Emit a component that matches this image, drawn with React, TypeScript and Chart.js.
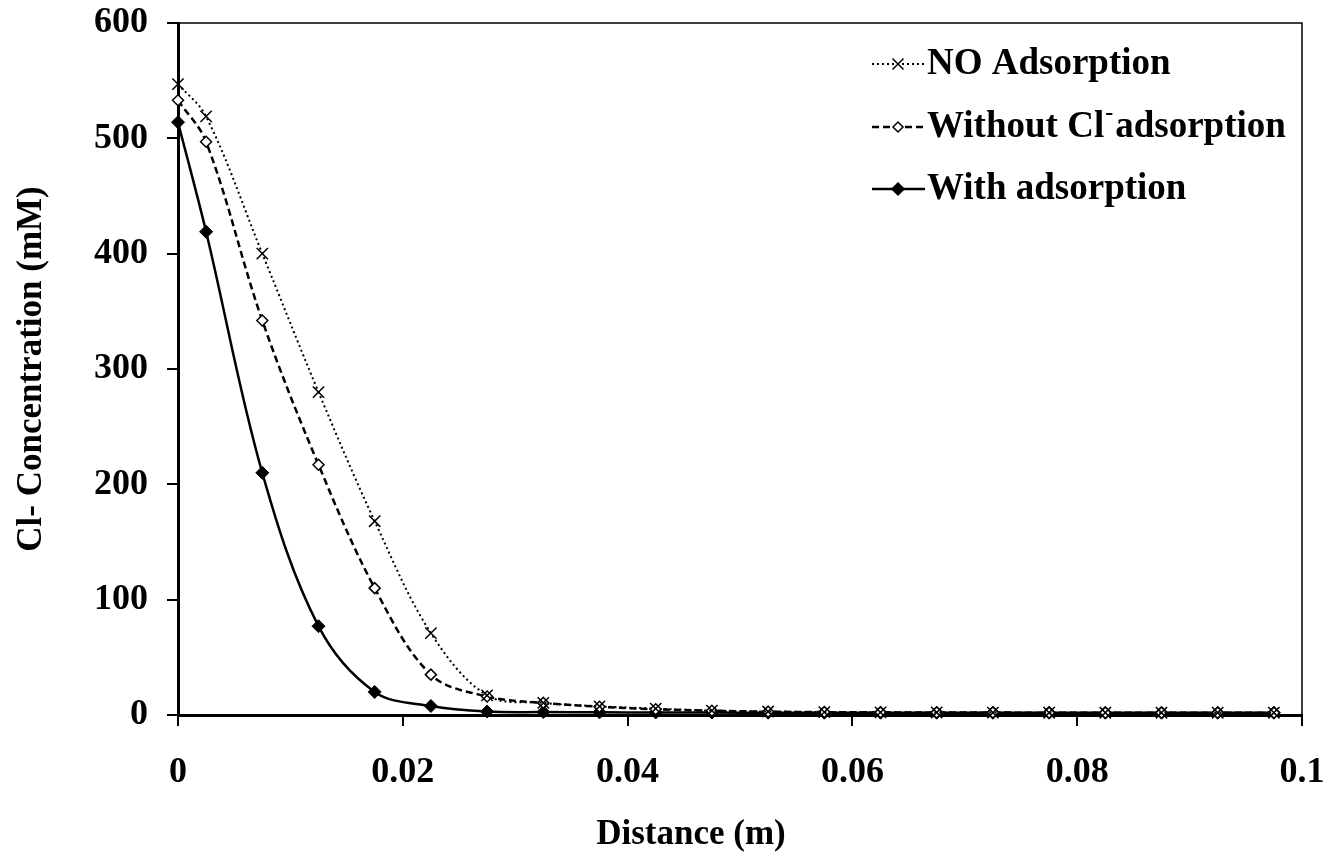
import React, { useEffect, useRef } from "react";
import { Chart, registerables } from "chart.js";

Chart.register(...registerables);

const distances = [0, 0.0025, 0.0075, 0.0125, 0.0175, 0.0225, 0.0275, 0.0325, 0.0375, 0.0425, 0.0475, 0.0525, 0.0575, 0.0625, 0.0675, 0.0725, 0.0775, 0.0825, 0.0875, 0.0925, 0.0975];
const noAdsorption = [547, 519, 400, 280, 168, 71, 17, 10.5, 7.5, 5.5, 3.8, 3, 2.5, 2.3, 2.2, 2.1, 2, 2, 2, 2, 2];
const withoutClAdsorption = [533, 497, 342, 217, 110, 35, 16, 10.5, 7.2, 5, 3.7, 2.9, 2.5, 2.3, 2.2, 2.1, 2, 2, 2, 2, 2];
const withAdsorption = [514, 419, 210, 77, 20, 7.8, 3, 2.5, 2.3, 2.2, 2.1, 2, 2, 2, 2, 2, 2, 2, 2, 2, 2];

const seriesLabels = ["NO Adsorption", "Without Cl", "With adsorption"];
const xTitle = "Distance (m)";
const yTitle = "Cl- Concentration (mM)";

const FONT = "'Liberation Serif', 'Times New Roman', serif";

function drawMarker(ctx: CanvasRenderingContext2D, style: string, x: number, y: number) {
  ctx.save();
  ctx.setLineDash([]);
  ctx.strokeStyle = "#000";
  if (style === "cross") {
    const r = 5.5;
    ctx.lineWidth = 1.5;
    ctx.beginPath();
    ctx.moveTo(x - r, y - r); ctx.lineTo(x + r, y + r);
    ctx.moveTo(x - r, y + r); ctx.lineTo(x + r, y - r);
    ctx.stroke();
  } else {
    const r = style === "open" ? 5 : 6;
    ctx.lineWidth = 1.5;
    ctx.beginPath();
    ctx.moveTo(x - r, y); ctx.lineTo(x, y - r); ctx.lineTo(x + r, y); ctx.lineTo(x, y + r); ctx.closePath();
    ctx.fillStyle = style === "open" ? "#fff" : "#000";
    ctx.fill();
    ctx.stroke();
  }
  ctx.restore();
}

const extrasPlugin = {
  id: "extras",
  afterDraw(chart: any) {
    const { ctx, chartArea: a } = chart;
    ctx.save();
    ctx.strokeStyle = "#000";
    ctx.lineWidth = 1.5;
    ctx.beginPath();
    ctx.moveTo(a.left, a.top);
    ctx.lineTo(a.right, a.top);
    ctx.lineTo(a.right, a.bottom);
    ctx.stroke();

    const rows = [
      { y: 64, dash: [2, 3], width: 2, marker: "cross" },
      { y: 127, dash: [7, 4], width: 2.5, marker: "open" },
      { y: 189, dash: [], width: 2.5, marker: "filled" },
    ];
    const x0 = 872, x1 = 925, xm = 898, xt = 927;
    const LF = `bold 37px ${FONT}`;
    ctx.font = LF;
    ctx.textBaseline = "middle";
    ctx.textAlign = "left";
    ctx.fillStyle = "#000";
    rows.forEach((r, i) => {
      ctx.save();
      ctx.setLineDash(r.dash);
      ctx.lineWidth = r.width;
      ctx.beginPath();
      ctx.moveTo(x0, r.y);
      ctx.lineTo(x1, r.y);
      ctx.stroke();
      ctx.restore();
      drawMarker(ctx, r.marker, xm, r.y);
      if (i === 1) {
        const base = seriesLabels[1];
        ctx.font = LF;
        ctx.fillText(base, xt, r.y);
        const w = ctx.measureText(base).width;
        ctx.font = `bold 24px ${FONT}`;
        ctx.fillText("-", xt + w + 1, r.y - 13);
        const w2 = ctx.measureText("-").width;
        ctx.font = LF;
        ctx.fillText("adsorption", xt + w + w2 + 3, r.y);
      } else {
        ctx.fillText(seriesLabels[i], xt, r.y);
      }
    });

    ctx.font = `bold 35px ${FONT}`;
    ctx.textAlign = "center";
    ctx.textBaseline = "middle";
    ctx.fillText(xTitle, 691, 835);
    ctx.restore();
  },
};

export default function App() {
  const ref = useRef<HTMLCanvasElement | null>(null);
  useEffect(() => {
    document.body.style.margin = "0";
    const canvas = ref.current!;
    const lineBase = { borderColor: "#000", pointBorderColor: "#000", fill: false, tension: 0.35, clip: false as any };
    const chart = new Chart(canvas, {
      type: "line",
      data: {
        datasets: [
          {
            ...lineBase,
            label: seriesLabels[0],
            data: distances.map((x, i) => ({ x, y: noAdsorption[i] })),
            borderWidth: 2,
            borderDash: [2, 3],
            pointStyle: "crossRot",
            pointRadius: 8,
            pointBorderWidth: 1.5,
            pointBackgroundColor: "#000",
          },
          {
            ...lineBase,
            label: "Without Cl- adsorption",
            data: distances.map((x, i) => ({ x, y: withoutClAdsorption[i] })),
            borderWidth: 2.5,
            borderDash: [7, 4],
            pointStyle: "rectRot",
            pointRadius: 5.5,
            pointBorderWidth: 1.5,
            pointBackgroundColor: "#fff",
          },
          {
            ...lineBase,
            label: seriesLabels[2],
            data: distances.map((x, i) => ({ x, y: withAdsorption[i] })),
            borderWidth: 2.5,
            pointStyle: "rectRot",
            pointRadius: 6.5,
            pointBorderWidth: 1,
            pointBackgroundColor: "#000",
          },
        ],
      },
      options: {
        animation: false,
        responsive: false,
        maintainAspectRatio: false,
        layout: { padding: { top: 23, right: 42, left: 0, bottom: 0 } },
        plugins: { legend: { display: false }, tooltip: { enabled: false } },
        scales: {
          x: {
            type: "linear",
            min: 0,
            max: 0.1,
            afterFit: (s: any) => { s.height = 145; s.paddingLeft = 0; s.paddingRight = 0; },
            border: { color: "#000", width: 3 },
            grid: { drawOnChartArea: false, tickLength: 11, color: "#000", lineWidth: 2 },
            ticks: {
              stepSize: 0.02,
              padding: 25,
              color: "#000",
              font: { family: FONT, size: 36, weight: "bold" },
              callback: (v: any) => String(Number(Number(v).toFixed(2))),
              maxRotation: 0,
            },
          },
          y: {
            type: "linear",
            min: 0,
            max: 600,
            afterFit: (s: any) => { s.width = 178; s.paddingTop = 0; s.paddingBottom = 0; },
            border: { color: "#000", width: 3 },
            grid: { drawOnChartArea: false, tickLength: 11, color: "#000", lineWidth: 2 },
            ticks: {
              stepSize: 100,
              padding: 19,
              color: "#000",
              font: { family: FONT, size: 36, weight: "bold" },
            },
            title: {
              display: true,
              text: yTitle,
              color: "#000",
              font: { family: FONT, size: 35, weight: "bold" },
              padding: { top: 11, bottom: 0 },
            },
          },
        },
      },
      plugins: [extrasPlugin],
    });
    return () => chart.destroy();
  }, []);
  return <canvas ref={ref} width={1344} height={860} style={{ display: "block" }} />;
}
